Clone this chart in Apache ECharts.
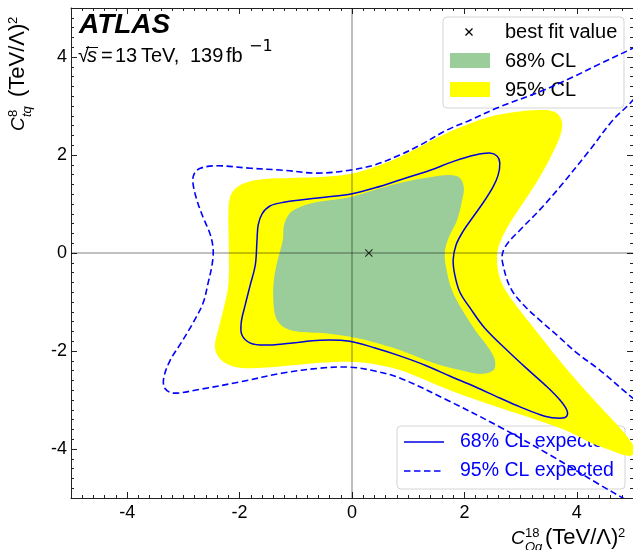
<!DOCTYPE html>
<html>
<head>
<meta charset="utf-8">
<script src="https://cdn.jsdelivr.net/npm/echarts@6/dist/echarts.min.js"></script>
<style>
  html, body { margin: 0; padding: 0; background: #fff; }
  #chart { width: 633px; height: 550px; }
</style>
</head>
<body>
<div id="chart"></div>
<script>
// Axis range and labelled ticks
const axisRange = [-5, 5];
const majorTicks = [-4, -2, 0, 2, 4];

// Best-fit point (C_Oq^18, C_tq^8)
const bestFit = [[0.30, 0.00]];

// Observed 95% CL region boundary
const cl95 = [
  [-2.19, 0.06], [-2.20, 0.78], [-2.17, 1.14], [-2.06, 1.33], [-1.85, 1.45], [-1.55, 1.51],
  [-1.10, 1.53], [-0.57, 1.55], [-0.04, 1.61], [0.41, 1.76], [0.85, 1.96], [1.69, 2.45],
  [2.45, 2.78], [2.90, 2.88], [3.34, 2.92], [3.61, 2.88], [3.73, 2.71], [3.72, 2.45],
  [3.57, 2.04], [3.34, 1.55], [3.08, 1.08], [2.81, 0.61], [2.63, 0.20], [2.58, -0.08],
  [2.63, -0.51], [2.81, -0.90], [3.29, -1.61], [3.88, -2.45], [4.50, -3.24], [4.80, -3.61],
  [4.98, -3.88], [5.05, -4.06], [4.91, -4.14], [4.59, -4.02], [4.23, -3.86], [3.82, -3.63],
  [3.34, -3.43], [2.63, -3.16], [1.74, -2.80], [0.85, -2.39], [0.41, -2.27], [-0.04, -2.22],
  [-0.57, -2.24], [-1.23, -2.31], [-1.81, -2.35], [-2.13, -2.31], [-2.35, -2.16], [-2.44, -1.92],
  [-2.38, -1.57], [-2.29, -1.16], [-2.20, -0.65]
];

// Observed 68% CL region boundary
const cl68 = [
  [-1.33, -0.18], [-1.23, 0.27], [-1.21, 0.57], [-1.10, 0.82], [-0.92, 0.94], [-0.62, 1.04],
  [-0.04, 1.14], [0.41, 1.29], [0.85, 1.43], [1.30, 1.53], [1.74, 1.59], [1.92, 1.53],
  [1.99, 1.33], [1.96, 1.08], [1.87, 0.67], [1.72, 0.31], [1.65, 0.00], [1.69, -0.39],
  [1.78, -0.76], [1.96, -1.16], [2.19, -1.57], [2.42, -1.92], [2.54, -2.18], [2.52, -2.39],
  [2.28, -2.47], [1.92, -2.39], [1.44, -2.24], [0.85, -1.98], [0.32, -1.80], [-0.04, -1.71],
  [-0.57, -1.63], [-0.92, -1.61], [-1.19, -1.53], [-1.35, -1.33], [-1.40, -0.96], [-1.39, -0.55]
];

// Expected 68% CL contour (closed)
const exp68 = [
  [-1.69, 0.27], [-1.67, 0.57], [-1.60, 0.80], [-1.46, 0.96], [-1.19, 1.04], [-0.92, 1.08],
  [-0.48, 1.14], [-0.04, 1.20], [0.41, 1.33], [0.85, 1.49], [1.39, 1.69], [1.83, 1.88],
  [2.19, 2.00], [2.45, 2.04], [2.58, 1.98], [2.63, 1.84], [2.60, 1.59], [2.51, 1.35],
  [2.33, 1.02], [2.15, 0.73], [1.97, 0.43], [1.85, 0.16], [1.80, -0.14], [1.83, -0.45],
  [1.92, -0.80], [2.10, -1.12], [2.36, -1.53], [2.81, -2.04], [3.16, -2.41], [3.47, -2.73],
  [3.70, -3.00], [3.82, -3.20], [3.82, -3.33], [3.70, -3.37], [3.43, -3.33], [2.99, -3.14],
  [2.63, -2.96], [2.19, -2.73], [1.74, -2.51], [1.30, -2.29], [0.85, -2.10], [0.41, -1.94],
  [-0.04, -1.80], [-0.57, -1.78], [-1.10, -1.84], [-1.55, -1.88], [-1.81, -1.84], [-1.96, -1.67],
  [-1.97, -1.41], [-1.90, -1.06], [-1.81, -0.65], [-1.72, -0.24]
];

// Expected 95% CL contour: main branch (open, leaves the plane top-right and bottom-right)
const exp95Main = [
  [5.21, 4.31], [5.00, 4.18], [4.41, 3.86], [3.93, 3.59], [3.34, 3.29], [2.58, 2.96],
  [2.10, 2.71], [1.69, 2.51], [1.21, 2.20], [0.85, 2.00], [0.41, 1.80], [-0.04, 1.69],
  [-0.62, 1.63], [-1.23, 1.69], [-1.81, 1.73], [-2.40, 1.78], [-2.70, 1.73], [-2.81, 1.61],
  [-2.83, 1.43], [-2.76, 1.08], [-2.65, 0.73], [-2.52, 0.37], [-2.47, 0.06], [-2.49, -0.24],
  [-2.56, -0.61], [-2.65, -1.02], [-2.83, -1.43], [-3.05, -1.85], [-3.24, -2.20], [-3.35, -2.55],
  [-3.33, -2.76], [-3.18, -2.86], [-2.70, -2.78], [-1.99, -2.63], [-1.23, -2.45], [-0.57, -2.35],
  [-0.04, -2.33], [0.41, -2.41], [0.85, -2.55], [1.69, -3.00], [2.63, -3.55], [3.52, -4.12],
  [4.41, -4.73], [4.85, -5.02], [5.12, -5.20]
];

// Expected 95% CL contour: right-hand branch
const exp95Right = [
  [5.21, 3.49], [5.00, 3.12], [4.64, 2.71], [4.23, 2.10], [3.70, 1.35], [3.34, 0.88],
  [2.99, 0.47], [2.77, 0.20], [2.68, 0.00], [2.68, -0.20], [2.81, -0.69], [3.02, -1.02],
  [3.34, -1.37], [3.70, -1.73], [4.00, -2.04], [4.41, -2.39], [4.89, -2.86], [5.21, -3.16]
];

// Reference lines through the Standard Model point
const zeroLineX = [[0, -5], [0, 5]];
const zeroLineY = [[-5, 0], [5, 0]];

const FONT = '"Liberation Sans", Arial, Helvetica, sans-serif';
const AXIS_COLOR = '#222';
const GREEN = '#9bcd9b';
const YELLOW = '#ffff00';
const BLUE = '#0000ff';
const LINE_BLUE = '#0000e0';

// Custom series drawing one smooth shape through all data points of the series
function shapeSeries(name, pts, z, kind, style) {
  return {
    type: 'custom', name: name, z: z, clip: true, silent: true,
    xAxisIndex: 0, yAxisIndex: 0,
    data: pts,
    encode: { x: 0, y: 1 },
    renderItem: function (params, api) {
      if (params.dataIndexInside !== 0) return null;
      const points = [];
      for (let i = 0; i < params.dataInsideLength; i++) {
        points.push(api.coord([api.value(0, i), api.value(1, i)]));
      }
      return { type: kind, shape: { points: points, smooth: 0.35 }, style: style };
    }
  };
}

function refLine(pts) {
  return {
    type: 'line', data: pts, z: 3, silent: true, symbol: 'none',
    xAxisIndex: 0, yAxisIndex: 0,
    lineStyle: { color: 'rgba(0,0,0,0.33)', width: 1.5 }
  };
}

function frameAxis(position, main) {
  const ax = {
    type: 'value', min: axisRange[0], max: axisRange[1], interval: 1,
    position: position, gridIndex: 0,
    splitLine: { show: false },
    axisLine: { show: main, onZero: false, lineStyle: { color: AXIS_COLOR, width: 1 } },
    axisLabel: { show: false }
  };
  if (main) {
    ax.axisTick = { show: true, inside: true, length: 6, customValues: majorTicks,
                    lineStyle: { color: AXIS_COLOR, width: 1 } };
    ax.minorTick = { show: false };
  } else {
    ax.axisTick = { show: true, inside: true, length: 3, lineStyle: { color: AXIS_COLOR, width: 1 } };
    ax.minorTick = { show: true, splitNumber: 5, length: 3, lineStyle: { color: AXIS_COLOR, width: 1 } };
  }
  return ax;
}

const xBottom = frameAxis('bottom', true);
xBottom.axisLabel = { show: true, customValues: majorTicks, fontSize: 18, color: '#000',
                      fontFamily: FONT, margin: 6 };
const yLeft = frameAxis('left', true);
yLeft.axisLabel = { show: true, customValues: majorTicks, fontSize: 18, color: '#000',
                    fontFamily: FONT, margin: 4 };

const xMarkPath = 'path://M0,1L1,0L5,4L9,0L10,1L6,5L10,9L9,10L5,6L1,10L0,9L4,5Z';

// text helper for the graphic layer
function txt(x, y, text, size, extra, rotation) {
  const style = Object.assign({ text: text, fontFamily: FONT, fontSize: size, fill: '#000',
                                textVerticalAlign: 'middle' }, extra || {});
  const el = { type: 'text', x: x, y: y, z: 20, style: style };
  if (rotation) el.rotation = rotation;
  return el;
}

// Axis title "C^sup_sub (TeV/Λ)^2": pieces laid out along the reading direction.
// o = offset from the start of the title, d = baseline shift (negative = raised)
const titlePieces = [
  { t: 'C', o: 0, d: 0, s: 19, it: true },
  { t: 'SUP', o: 14, d: -7.5, s: 13 },
  { t: 'SUB', o: 14, d: 6.5, s: 13, it: true },
  { t: '(TeV/Λ)', o: 34, d: 0, s: 22 },
  { t: '2', o: 107, d: -7.5, s: 13 }
];

function axisTitle(sup, sub, vertical) {
  return titlePieces.map(function (p) {
    const text = p.t === 'SUP' ? sup : (p.t === 'SUB' ? sub : p.t);
    const extra = p.it ? { fontStyle: 'italic' } : {};
    const shift = p.d - 0.34 * p.s;   // baseline shift -> middle of the glyphs
    if (vertical) {
      // baseline at x = 25, reading upward from y = 131
      return txt(25 + shift, 131 - p.o, text, p.s, extra, Math.PI / 2);
    }
    // baseline at y = 545, reading rightward from x = 511
    return txt(511 + p.o, 545 + shift, text, p.s, extra);
  });
}

const chart = echarts.init(document.getElementById('chart'), null, { renderer: 'canvas' });

chart.setOption({
  animation: false,
  backgroundColor: '#fff',
  grid: { left: 71, right: 0, top: 8, bottom: 52, containLabel: false, outerBoundsMode: 'none' },
  xAxis: [xBottom, frameAxis('bottom', false), frameAxis('top', true), frameAxis('top', false)],
  yAxis: [yLeft, frameAxis('left', false), frameAxis('right', true), frameAxis('right', false)],
  series: [
    shapeSeries('95% CL', cl95, 1, 'polygon', { fill: YELLOW }),
    shapeSeries('68% CL', cl68, 2, 'polygon', { fill: GREEN }),
    refLine(zeroLineX),
    refLine(zeroLineY),
    shapeSeries('68% CL expected', exp68, 4, 'polygon',
      { fill: 'none', stroke: LINE_BLUE, lineWidth: 1.5 }),
    shapeSeries('95% CL expected', exp95Main, 4, 'polyline',
      { fill: 'none', stroke: BLUE, lineWidth: 1.6, lineDash: [6.5, 3.5] }),
    shapeSeries('95% CL expected', exp95Right, 4, 'polyline',
      { fill: 'none', stroke: BLUE, lineWidth: 1.6, lineDash: [6.5, 3.5] }),
    {
      type: 'scatter', name: 'best fit value', data: bestFit, z: 6, silent: true,
      xAxisIndex: 0, yAxisIndex: 0,
      symbol: xMarkPath, symbolSize: 8, itemStyle: { color: '#000' }
    }
  ],
  graphic: { elements: [
    // experiment label
    txt(79, 25, 'ATLAS', 28, { fontStyle: 'italic', fontWeight: 'bold' }),
    txt(78, 56, '√', 20),
    txt(87, 56, 's', 20, { fontStyle: 'italic' }),
    txt(101, 56, '=', 20),
    txt(115, 56, '13', 20),
    txt(141, 56, 'TeV,', 20),
    txt(190, 56, '139', 20),
    txt(226, 56, 'fb', 20),
    txt(249, 47, '−1', 16, { fontFamily: '"DejaVu Sans", sans-serif' }),
    { type: 'line', z: 20, shape: { x1: 86, y1: 47.5, x2: 98, y2: 47.5 },
      style: { stroke: '#000', lineWidth: 1 } }
  ]
  .concat(axisTitle('8', 'tq', true))
  .concat(axisTitle('18', 'Oq', false))
  .concat([
    // legend: observed
    { type: 'group', x: 443, y: 17, z: 30, children: [
      { type: 'rect', shape: { x: 0, y: 0, width: 181, height: 91, r: 4 },
        style: { fill: 'rgba(255,255,255,0.8)', stroke: '#d5d5d5', lineWidth: 1 } },
      { type: 'line', shape: { x1: 22.5, y1: 11.5, x2: 29.5, y2: 18.5 }, style: { stroke: '#000', lineWidth: 1.2 } },
      { type: 'line', shape: { x1: 22.5, y1: 18.5, x2: 29.5, y2: 11.5 }, style: { stroke: '#000', lineWidth: 1.2 } },
      { type: 'text', x: 62, y: 15, style: { text: 'best fit value', fontFamily: FONT, fontSize: 20,
        fill: '#000', textVerticalAlign: 'middle' } },
      { type: 'rect', shape: { x: 7, y: 36, width: 40, height: 15 }, style: { fill: GREEN } },
      { type: 'text', x: 62, y: 44, style: { text: '68% CL', fontFamily: FONT, fontSize: 20,
        fill: '#000', textVerticalAlign: 'middle' } },
      { type: 'rect', shape: { x: 7, y: 65, width: 40, height: 15 }, style: { fill: YELLOW } },
      { type: 'text', x: 62, y: 73, style: { text: '95% CL', fontFamily: FONT, fontSize: 20,
        fill: '#000', textVerticalAlign: 'middle' } }
    ] },

    // legend: expected
    { type: 'group', x: 397, y: 426, z: 30, children: [
      { type: 'rect', shape: { x: 0, y: 0, width: 228, height: 63, r: 4 },
        style: { fill: 'rgba(255,255,255,0.8)', stroke: '#d5d5d5', lineWidth: 1 } },
      { type: 'line', shape: { x1: 7, y1: 16, x2: 47, y2: 16 }, style: { stroke: LINE_BLUE, lineWidth: 1.5 } },
      { type: 'text', x: 63, y: 16, style: { text: '68% CL expected', fontFamily: FONT, fontSize: 19.5,
        fill: BLUE, textVerticalAlign: 'middle' } },
      { type: 'line', shape: { x1: 7, y1: 45, x2: 47, y2: 45 },
        style: { stroke: BLUE, lineWidth: 1.6, lineDash: [6.5, 3.5] } },
      { type: 'text', x: 63, y: 45, style: { text: '95% CL expected', fontFamily: FONT, fontSize: 19.5,
        fill: BLUE, textVerticalAlign: 'middle' } }
    ] }
  ]) }
});
</script>
</body>
</html>
